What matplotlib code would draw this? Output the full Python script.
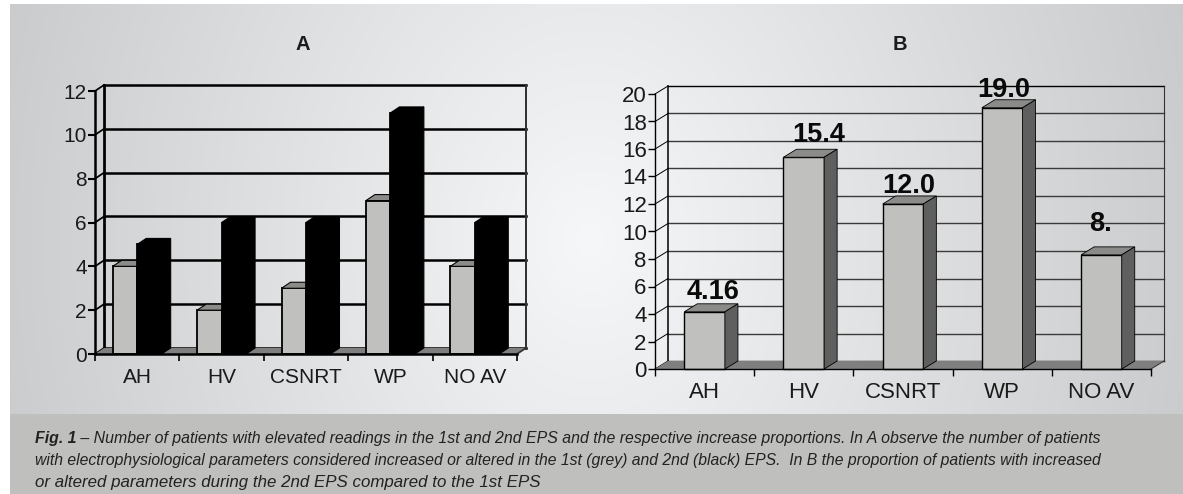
import numpy as np
import matplotlib
matplotlib.use('Agg')
import matplotlib.pyplot as plt
from matplotlib.patches import Polygon, Rectangle

categories = ['AH', 'HV', 'CSNRT', 'WP', 'NO AV']
first_eps = [4, 2, 3, 7, 4]
second_eps = [5, 6, 6, 11, 6]
ticks_a = [0, 2, 4, 6, 8, 10, 12]

proportion = [4.16, 15.4, 12.0, 19.0, 8.3]
proportion_labels = ['4.16', '15.4', '12.0', '19.0', '8.']
ticks_b = [0, 2, 4, 6, 8, 10, 12, 14, 16, 18, 20]

caption = [
    ' – Number of patients with elevated readings in the 1st and 2nd EPS and the respective increase proportions. In A observe the number of patients',
    'with electrophysiological parameters considered increased or altered in the 1st (grey) and 2nd (black) EPS.  In B the proportion of patients with increased',
    'or altered parameters during the 2nd EPS compared to the 1st EPS',
]

W, H = 1183, 494
FACE = '#c0c0be'
TOP = '#8b8b89'
SIDE = '#5f5f5f'
FLOOR = '#7f7f7f'
plt.rcParams['font.family'] = ['Liberation Sans', 'DejaVu Sans']

fig = plt.figure(figsize=(W / 100, H / 100), dpi=100, facecolor='white')


def px_axes(left, right, top, bottom):
    ax = fig.add_axes([left / W, 1 - bottom / H, (right - left) / W, (bottom - top) / H])
    ax.patch.set_alpha(0)
    return ax


# background panel with the soft light patch in the middle
bg = px_axes(0, W, 0, H)
bg.axis('off')
xx, yy = np.meshgrid(np.arange(10, W), np.arange(5, 414))
r = np.sqrt(((xx - 590) / 560) ** 2 + ((yy - 240) / 700) ** 2)
shade = 247 - 40 * r
bg.imshow(np.dstack([shade - 1, shade, shade + 1]).astype(np.uint8), extent=(10, W, 414, 5), aspect='auto')
bg.set_xlim(0, W)
bg.set_ylim(H, 0)
bg.add_patch(Rectangle((10, 414), W - 10, 80, color='#bfbfbd', lw=0))


def frame(ax, ticks, depth_x, depth_y, lw, grid_color, n):
    top = ticks[-1]
    ax.set_xlim(0, n)
    ax.set_ylim(0, top)
    for s in ['top', 'right']:
        ax.spines[s].set_visible(False)
    for s in ['left', 'bottom']:
        ax.spines[s].set_linewidth(lw)
        ax.spines[s].set_zorder(8)
    ax.add_patch(Polygon([(0, 0), (n, 0), (n + depth_x, depth_y), (depth_x, depth_y)],
                         closed=True, fc=FLOOR, ec='none', clip_on=False, zorder=2))
    for t in ticks:
        c = grid_color if 0 < t < top else 'black'
        ax.plot([depth_x, n + depth_x], [t + depth_y, t + depth_y], color=c, lw=lw, clip_on=False, zorder=1.5)
        ax.plot([0, depth_x], [t, t + depth_y], color='black', lw=lw * 0.7, clip_on=False, zorder=1.5)
    ax.plot([depth_x, depth_x], [depth_y, top + depth_y], color='black', lw=lw * 1.1, clip_on=False, zorder=1.5)
    ax.plot([n + depth_x, n + depth_x], [depth_y, top + depth_y], color='#333333', lw=lw * 0.8, clip_on=False, zorder=1.5)
    ax.plot([n, n + depth_x], [0, depth_y], color='#333333', lw=lw * 0.7, clip_on=False, zorder=2)
    ax.set_yticks(ticks)
    ax.set_xticks(range(n + 1))
    ax.set_xticklabels([])
    ax.set_xticks(np.arange(n) + 0.5, categories, minor=True)
    ax.tick_params(axis='x', which='minor', length=0)


def bar3d(ax, x, h, w, face, top, side, depth_x, depth_y, lw, z):
    ax.bar(x, h, w, color=face, edgecolor='black', linewidth=lw, clip_on=False, zorder=z)
    l, r_ = x - w / 2, x + w / 2
    ax.add_patch(Polygon([(l, h), (r_, h), (r_ + depth_x, h + depth_y), (l + depth_x, h + depth_y)],
                         closed=True, fc=top, ec='black', lw=lw * 0.6, clip_on=False, zorder=z))
    ax.add_patch(Polygon([(r_, 0), (r_, h), (r_ + depth_x, h + depth_y), (r_ + depth_x, depth_y)],
                         closed=True, fc=side, ec='black', lw=lw * 0.6, clip_on=False, zorder=z))


# chart A
ax_a = px_axes(95, 517, 91, 354)
da_x, da_y = 9 / 84.4, 6 / 21.9
frame(ax_a, ticks_a, da_x, da_y, 1.8, 'black', len(categories))
bw = 0.29
for i in range(len(categories)):
    bar3d(ax_a, i + 0.5 - bw / 2, first_eps[i], bw, FACE, TOP, SIDE, da_x, da_y, 1.3, 3 + i * 0.1)
    bar3d(ax_a, i + 0.5 + bw / 2, second_eps[i], bw, 'black', 'black', 'black', da_x, da_y, 1.3, 3.05 + i * 0.1)
ax_a.tick_params(axis='y', labelsize=15, length=5, width=1.5, pad=1, labelcolor='#1a1a1a')
ax_a.tick_params(axis='x', which='major', length=5, width=1.2)
ax_a.tick_params(axis='x', which='minor', labelsize=15, pad=10, labelcolor='#1a1a1a')

# chart B
ax_b = px_axes(655, 1151, 94, 369)
db_x, db_y = 13 / 99.2, 8 / 13.75
frame(ax_b, ticks_b, db_x, db_y, 1.0, '#3a3a3a', len(categories))
bw_b = 0.41
# label nudges in pixels, the source chart places these by hand
label_nudge = [(8, 7), (15, 9), (6, 5), (2, 5), (-1, 18)]
for i, v in enumerate(proportion):
    bar3d(ax_b, i + 0.5, v, bw_b, FACE, TOP, SIDE, db_x, db_y, 1.0, 3)
    ax_b.annotate(proportion_labels[i], (i + 0.5, v), xytext=label_nudge[i], textcoords='offset pixels',
                  ha='center', va='bottom', fontsize=19.5, fontweight='bold', color='#0a0a0a',
                  zorder=6, annotation_clip=False)
ax_b.tick_params(axis='y', labelsize=16, length=5, width=1.0, pad=1, labelcolor='#1a1a1a')
ax_b.tick_params(axis='x', which='major', length=5, width=1.0)
ax_b.tick_params(axis='x', which='minor', labelsize=16, pad=9, labelcolor='#1a1a1a')

# panel letters
bg.text(303, 44, 'A', ha='center', va='center', fontsize=14.5, fontweight='bold', color='#1c1c1c')
bg.text(900, 44, 'B', ha='center', va='center', fontsize=14.5, fontweight='bold', color='#1c1c1c')

# caption, bold lead-in then italic; the source is justified so each line has its own size
cap_sizes = [11.47, 11.37, 12.2]
lead = bg.text(35, 438, 'Fig. 1', va='center', fontsize=cap_sizes[0], fontweight='bold', style='italic', color='#222222')
fig.canvas.draw()
lead_end = lead.get_window_extent().x1
bg.text(lead_end, 438, caption[0], va='center', fontsize=cap_sizes[0], style='italic', color='#222222')
bg.text(35, 460, caption[1], va='center', fontsize=cap_sizes[1], style='italic', color='#222222')
bg.text(35, 482, caption[2], va='center', fontsize=cap_sizes[2], style='italic', color='#222222')

fig.savefig('out.png', dpi=100, facecolor='white')
